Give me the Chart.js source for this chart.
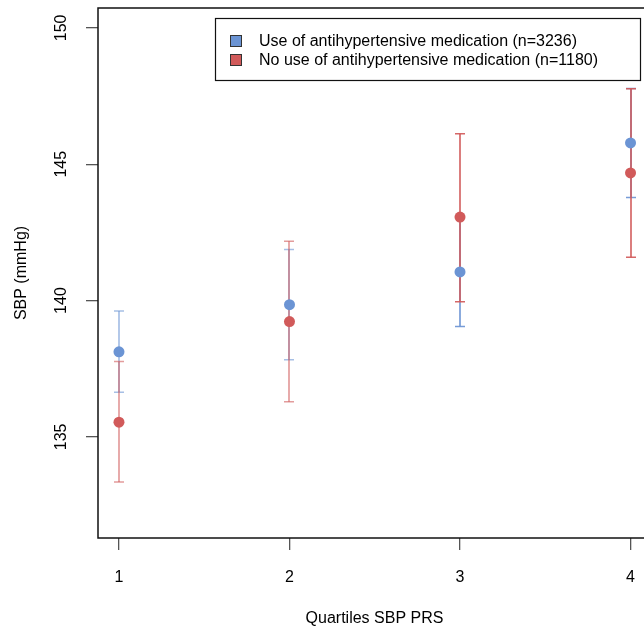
<!DOCTYPE html>
<html>
<head>
<meta charset="utf-8">
<script src="https://cdn.jsdelivr.net/npm/chart.js@4.4.1/dist/chart.umd.min.js"></script>
<style>
  html, body { margin: 0; padding: 0; background: #fff; overflow: hidden; }
  #wrap { width: 660px; height: 629px; }
</style>
</head>
<body>
<div id="wrap"><canvas id="c" width="660" height="629"></canvas></div>
<script>
// quartile means with 95% CI
const quartiles = [1, 2, 3, 4];
const medMean  = [138.12, 139.85, 141.05, 145.78];
const medLower = [136.64, 137.83, 139.05, 143.78];
const medUpper = [139.62, 141.87, 143.05, 147.78];
const noMedMean  = [135.54, 139.23, 143.06, 144.68];
const noMedLower = [133.34, 136.29, 139.96, 141.59];
const noMedUpper = [137.76, 142.17, 146.12, 147.77];
const seriesLabels = ['Use of antihypertensive medication (n=3236)', 'No use of antihypertensive medication (n=1180)'];
const xTicks = [1, 2, 3, 4];
const yTicks = [135, 140, 145, 150];

const FONT = '16px "Liberation Sans", Arial, Helvetica, sans-serif';
const BLUE = [107, 148, 212];
const RED = [209, 90, 90];
const rgba = (c, a) => `rgba(${c[0]},${c[1]},${c[2]},${a})`;
const barAlpha = [0.6, 0.6, 0.92, 0.92];

const errorBars = {
  id: 'errorBars',
  beforeDatasetsDraw(chart) {
    const { ctx, scales: { x, y } } = chart;
    const groups = [
      { lo: medLower, hi: medUpper, col: BLUE },
      { lo: noMedLower, hi: noMedUpper, col: RED }
    ];
    ctx.save();
    groups.forEach(g => {
      quartiles.forEach((q, i) => {
        const px = Math.round(x.getPixelForValue(q));
        const y1 = y.getPixelForValue(g.lo[i]), y2 = y.getPixelForValue(g.hi[i]);
        ctx.strokeStyle = rgba(g.col, barAlpha[i]);
        ctx.lineWidth = 1.7;
        ctx.beginPath();
        ctx.moveTo(px, y1); ctx.lineTo(px, y2);
        ctx.stroke();
        ctx.lineWidth = 1.5;
        ctx.beginPath();
        ctx.moveTo(px - 5, y1); ctx.lineTo(px + 5, y1);
        ctx.moveTo(px - 5, y2); ctx.lineTo(px + 5, y2);
        ctx.stroke();
      });
    });
    ctx.restore();
  }
};

const frame = {
  id: 'frame',
  afterDraw(chart) {
    const { ctx, chartArea: a, scales: { x, y } } = chart;
    ctx.save();
    // box
    ctx.strokeStyle = '#111';
    ctx.lineWidth = 1.5;
    ctx.strokeRect(a.left, a.top, a.right - a.left, a.bottom - a.top);
    // tick labels
    ctx.fillStyle = '#000';
    ctx.font = FONT;
    ctx.textAlign = 'center';
    ctx.textBaseline = 'middle';
    x.ticks.forEach(t => ctx.fillText(String(t.value), x.getPixelForValue(t.value), 578));
    y.ticks.forEach(t => {
      ctx.save();
      ctx.translate(62, y.getPixelForValue(t.value));
      ctx.rotate(-Math.PI / 2);
      ctx.fillText(String(t.value), 0, 0);
      ctx.restore();
    });
    // axis titles
    ctx.fillText('Quartiles SBP PRS', (a.left + a.right) / 2, 619);
    ctx.save();
    ctx.translate(22, (a.top + a.bottom) / 2);
    ctx.rotate(-Math.PI / 2);
    ctx.fillText('SBP (mmHg)', 0, 0);
    ctx.restore();
    // legend
    ctx.fillStyle = '#fff';
    ctx.fillRect(215.5, 18.5, 425, 62);
    ctx.strokeStyle = '#111';
    ctx.lineWidth = 1.2;
    ctx.strokeRect(215.5, 18.5, 425, 62);
    [BLUE, RED].forEach((col, i) => {
      const cy = 41 + i * 19;
      ctx.fillStyle = rgba(col, 1);
      ctx.fillRect(230.5, cy - 5.5, 11, 11);
      ctx.strokeStyle = '#333';
      ctx.lineWidth = 1;
      ctx.strokeRect(230.5, cy - 5.5, 11, 11);
      ctx.fillStyle = '#000';
      ctx.textAlign = 'left';
      ctx.fillText(seriesLabels[i], 259, cy + 1);
    });
    ctx.restore();
  }
};

new Chart(document.getElementById('c'), {
  type: 'scatter',
  data: {
    datasets: [
      { label: seriesLabels[0], data: quartiles.map((q, i) => ({ x: q, y: medMean[i] })),
        pointRadius: 5.5, pointHoverRadius: 5.5, pointBorderWidth: 0, pointBackgroundColor: rgba(BLUE, 1) },
      { label: seriesLabels[1], data: quartiles.map((q, i) => ({ x: q, y: noMedMean[i] })),
        pointRadius: 5.5, pointHoverRadius: 5.5, pointBorderWidth: 0, pointBackgroundColor: rgba(RED, 1) }
    ]
  },
  options: {
    responsive: false,
    animation: false,
    devicePixelRatio: 1,
    layout: { padding: { top: 8, right: 9, left: 0, bottom: 0 } },
    plugins: { legend: { display: false }, tooltip: { enabled: false } },
    scales: {
      x: {
        type: 'linear', min: 0.877, max: 4.12,
        afterBuildTicks: s => { s.ticks = xTicks.map(v => ({ value: v })); },
        afterFit: s => { s.height = 91; },
        ticks: { display: false },
        border: { display: false },
        grid: { drawOnChartArea: false, drawTicks: true, tickLength: 12, color: '#555', lineWidth: 1.3 }
      },
      y: {
        type: 'linear', min: 131.29, max: 150.73,
        afterBuildTicks: s => { s.ticks = yTicks.map(v => ({ value: v })); },
        afterFit: s => { s.width = 98; },
        ticks: { display: false },
        border: { display: false },
        grid: { drawOnChartArea: false, drawTicks: true, tickLength: 12, color: '#555', lineWidth: 1.3 }
      }
    }
  },
  plugins: [errorBars, frame]
});
</script>
</body>
</html>
